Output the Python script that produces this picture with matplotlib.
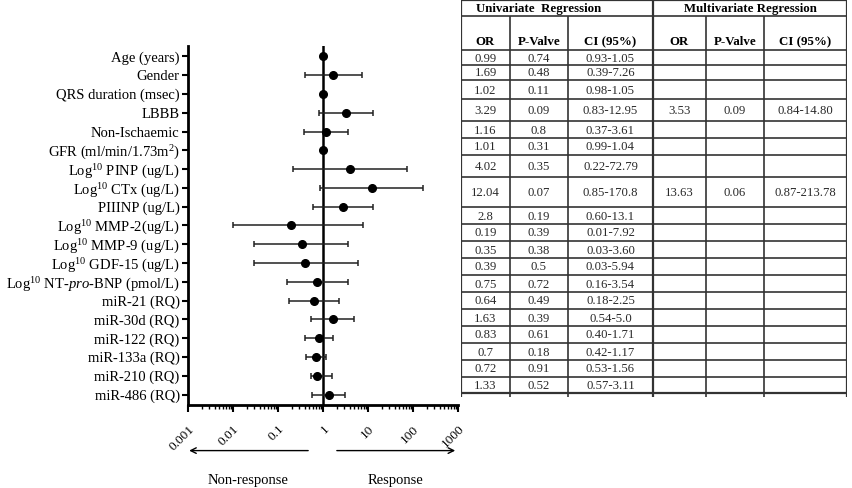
import numpy as np
import matplotlib
matplotlib.use("Agg")
import matplotlib.pyplot as plt
import matplotlib.transforms as mtransforms

plt.rcParams['font.family'] = ['Liberation Serif', 'DejaVu Serif']
plt.rcParams['mathtext.fontset'] = 'custom'
plt.rcParams['mathtext.rm'] = 'Liberation Serif'
plt.rcParams['mathtext.it'] = 'Liberation Serif:italic'

# ---- data ----
labels = [
    "Age (years)", "Gender", "QRS duration (msec)", "LBBB", "Non-Ischaemic",
    "GFR (ml/min/1.73m$^{2}$)", "Log$^{10}$ PINP (ug/L)", "Log$^{10}$ CTx (ug/L)",
    "PIIINP (ug/L)", "Log$^{10}$ MMP-2(ug/L)", "Log$^{10}$ MMP-9 (ug/L)",
    "Log$^{10}$ GDF-15 (ug/L)", "Log$^{10}$ NT-$\\mathit{pro}$-BNP (pmol/L)",
    "miR-21 (RQ)", "miR-30d (RQ)", "miR-122 (RQ)", "miR-133a (RQ)",
    "miR-210 (RQ)", "miR-486 (RQ)",
]
uni_or = [0.99, 1.69, 1.02, 3.29, 1.16, 1.01, 4.02, 12.04, 2.8, 0.19, 0.35,
          0.39, 0.75, 0.64, 1.63, 0.83, 0.7, 0.72, 1.33]
uni_p = ["0.74", "0.48", "0.11", "0.09", "0.8", "0.31", "0.35", "0.07", "0.19",
         "0.39", "0.38", "0.5", "0.72", "0.49", "0.39", "0.61", "0.18", "0.91", "0.52"]
ci_low = [0.93, 0.39, 0.98, 0.83, 0.37, 0.99, 0.22, 0.85, 0.60, 0.01, 0.03,
          0.03, 0.16, 0.18, 0.54, 0.40, 0.42, 0.53, 0.57]
ci_high = [1.05, 7.26, 1.05, 12.95, 3.61, 1.04, 72.79, 170.8, 13.1, 7.92, 3.60,
           5.94, 3.54, 2.25, 5.0, 1.71, 1.17, 1.56, 3.11]
uni_or_txt = ["0.99", "1.69", "1.02", "3.29", "1.16", "1.01", "4.02", "12.04", "2.8",
              "0.19", "0.35", "0.39", "0.75", "0.64", "1.63", "0.83", "0.7", "0.72", "1.33"]
uni_ci_txt = ["0.93-1.05", "0.39-7.26", "0.98-1.05", "0.83-12.95", "0.37-3.61",
              "0.99-1.04", "0.22-72.79", "0.85-170.8", "0.60-13.1", "0.01-7.92",
              "0.03-3.60", "0.03-5.94", "0.16-3.54", "0.18-2.25", "0.54-5.0",
              "0.40-1.71", "0.42-1.17", "0.53-1.56", "0.57-3.11"]
multi_rows = {3: ("3.53", "0.09", "0.84-14.80"), 7: ("13.63", "0.06", "0.87-213.78")}

xticks = [0.001, 0.01, 0.1, 1, 10, 100, 1000]
xtick_labels = ["0.001", "0.01", "0.1", "1", "10", "100", "1000"]

# ---- figure ----
W, H = 853, 488
fig = plt.figure(figsize=(W / 100, H / 100), dpi=100)
ax = fig.add_axes([188 / W, 83 / H, 270 / W, 359 / H])

y = np.arange(len(labels))
or_arr = np.array(uni_or)
xerr = np.vstack([or_arr - np.array(ci_low), np.array(ci_high) - or_arr])
ax.errorbar(or_arr, y, xerr=xerr, fmt='o', color='black', ms=5.5,
            elinewidth=1.1, ecolor='#222222', capsize=2.5, capthick=1.1, zorder=3)
ax.axvline(1, color='black', lw=1.8, zorder=2)

ax.set_xscale('log')
ax.set_xlim(0.001, 1000)
ax.set_ylim(len(labels) - 0.45, -0.55)
ax.set_yticks(y)
ax.set_yticklabels(labels, fontsize=10.5)
ax.set_xticks(xticks)
ax.set_xticklabels(xtick_labels, fontsize=9.5, rotation=45, ha='right',
                   rotation_mode='anchor')
ax.tick_params(axis='y', direction='out', length=4, width=1.5, pad=2)
ax.tick_params(axis='x', which='major', direction='out', length=5, width=1.5, pad=8)
ax.tick_params(axis='x', which='minor', direction='out', length=3, width=1)
for s in ['top', 'right']:
    ax.spines[s].set_visible(False)
for s in ['left', 'bottom']:
    ax.spines[s].set_linewidth(2)

# direction arrows under the axis
trans = mtransforms.blended_transform_factory(ax.transData, ax.transAxes)
ax.annotate("", xy=(0.00092, -0.127), xytext=(0.54, -0.127), xycoords=trans,
            textcoords=trans, annotation_clip=False,
            arrowprops=dict(arrowstyle='->', lw=1, color='black'))
ax.annotate("", xy=(1000, -0.127), xytext=(1.76, -0.127), xycoords=trans,
            textcoords=trans, annotation_clip=False,
            arrowprops=dict(arrowstyle='->', lw=1, color='black'))
ax.text(0.022, -0.21, "Non-response", transform=trans, ha='center', va='center',
        fontsize=10.5)
ax.text(40, -0.21, "Response", transform=trans, ha='center', va='center',
        fontsize=10.5)

# ---- table ----
TW, TH = 386, 397
tax = fig.add_axes([461 / W, (H - TH) / H, TW / W, TH / H])
tax.set_xlim(0, TW)
tax.set_ylim(TH, 0)
tax.axis('off')

col_edges = [0, 49, 107, 192, 245, 303, 386]
head_h = [16, 34]
row_h = [15, 15, 19, 22, 17, 17, 22, 30, 17, 17, 17, 17, 17, 17, 17, 17, 17, 17, 16]
row_edges = np.concatenate([[0], np.cumsum(head_h + row_h)])
lc = '#333333'

# horizontal lines
tax.hlines(row_edges, 0, TW, color=lc, lw=1.2)
tax.hlines([row_edges[0], row_edges[-1]], 0, TW, color=lc, lw=1.6)
# vertical lines
tax.vlines([col_edges[0], col_edges[3], col_edges[-1]], 0, TH, color=lc, lw=1.6)
tax.vlines([col_edges[1], col_edges[2], col_edges[4], col_edges[5]],
           row_edges[1], TH, color=lc, lw=1.2)

col_mid = [(col_edges[i] + col_edges[i + 1]) / 2 for i in range(6)]
tax.text(col_mid[1], head_h[0] / 2 + 1, "Univariate  Regression", ha='center',
         va='center', fontsize=9.3, fontweight='bold')
tax.text((col_edges[3] + col_edges[6]) / 2, head_h[0] / 2 + 1,
         "Multivariate Regression", ha='center', va='center', fontsize=9.3,
         fontweight='bold')
for i, h in enumerate(["OR", "P-Valve", "CI (95%)"] * 2):
    tax.text(col_mid[i], row_edges[2] - 8, h, ha='center', va='center',
             fontsize=9.3, fontweight='bold')

tc = '#2a2a2a'
for r in range(len(labels)):
    yc = (row_edges[r + 2] + row_edges[r + 3]) / 2 + 1
    vals = [uni_or_txt[r], uni_p[r], uni_ci_txt[r]]
    if r in multi_rows:
        vals += list(multi_rows[r])
    for c, v in enumerate(vals):
        tax.text(col_mid[c], yc, v, ha='center', va='center', fontsize=9.2, color=tc)

fig.savefig("out.png", dpi=100)
